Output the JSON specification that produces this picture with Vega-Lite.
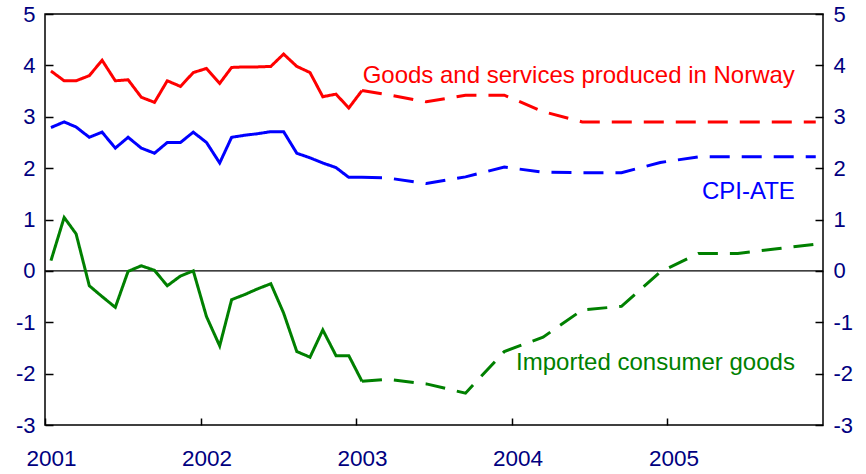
{
  "$schema": "https://vega.github.io/schema/vega-lite/v6.json",
  "width": 778,
  "height": 411,
  "autosize": "none",
  "padding": {"left": 45, "top": 14, "right": 43, "bottom": 49},
  "background": "white",
  "config": {
    "view": {"stroke": "#000000", "strokeWidth": 1.5},
    "axis": {
      "domain": false,
      "grid": false,
      "labelFont": "Liberation Sans",
      "labelFontSize": 22,
      "labelColor": "#000080",
      "tickColor": "#000000",
      "tickWidth": 1.5,
      "title": null
    }
  },
  "datasets": {
    "lines": [
      {"series": "nor", "part": "actual", "date": "2001-01-15", "value": 3.89},
      {"series": "nor", "part": "actual", "date": "2001-02-15", "value": 3.70},
      {"series": "nor", "part": "actual", "date": "2001-03-15", "value": 3.70},
      {"series": "nor", "part": "actual", "date": "2001-04-15", "value": 3.80},
      {"series": "nor", "part": "actual", "date": "2001-05-15", "value": 4.10},
      {"series": "nor", "part": "actual", "date": "2001-06-15", "value": 3.70},
      {"series": "nor", "part": "actual", "date": "2001-07-15", "value": 3.72},
      {"series": "nor", "part": "actual", "date": "2001-08-15", "value": 3.38},
      {"series": "nor", "part": "actual", "date": "2001-09-15", "value": 3.28},
      {"series": "nor", "part": "actual", "date": "2001-10-15", "value": 3.70},
      {"series": "nor", "part": "actual", "date": "2001-11-15", "value": 3.59},
      {"series": "nor", "part": "actual", "date": "2001-12-15", "value": 3.86},
      {"series": "nor", "part": "actual", "date": "2002-01-15", "value": 3.94},
      {"series": "nor", "part": "actual", "date": "2002-02-15", "value": 3.65},
      {"series": "nor", "part": "actual", "date": "2002-03-15", "value": 3.96},
      {"series": "nor", "part": "actual", "date": "2002-04-15", "value": 3.97},
      {"series": "nor", "part": "actual", "date": "2002-05-15", "value": 3.97},
      {"series": "nor", "part": "actual", "date": "2002-06-15", "value": 3.98},
      {"series": "nor", "part": "actual", "date": "2002-07-15", "value": 4.22},
      {"series": "nor", "part": "actual", "date": "2002-08-15", "value": 3.98},
      {"series": "nor", "part": "actual", "date": "2002-09-15", "value": 3.86},
      {"series": "nor", "part": "actual", "date": "2002-10-15", "value": 3.39},
      {"series": "nor", "part": "actual", "date": "2002-11-15", "value": 3.44},
      {"series": "nor", "part": "actual", "date": "2002-12-15", "value": 3.17},
      {"series": "nor", "part": "actual", "date": "2003-01-15", "value": 3.51},
      {"series": "nor", "part": "projection", "date": "2003-01-15", "value": 3.51},
      {"series": "nor", "part": "projection", "date": "2003-03-15", "value": 3.43},
      {"series": "nor", "part": "projection", "date": "2003-06-15", "value": 3.29},
      {"series": "nor", "part": "projection", "date": "2003-09-15", "value": 3.42},
      {"series": "nor", "part": "projection", "date": "2003-12-15", "value": 3.42},
      {"series": "nor", "part": "projection", "date": "2004-03-15", "value": 3.10},
      {"series": "nor", "part": "projection", "date": "2004-06-15", "value": 2.90},
      {"series": "nor", "part": "projection", "date": "2004-09-15", "value": 2.90},
      {"series": "nor", "part": "projection", "date": "2004-12-15", "value": 2.90},
      {"series": "nor", "part": "projection", "date": "2005-03-15", "value": 2.90},
      {"series": "nor", "part": "projection", "date": "2005-06-15", "value": 2.90},
      {"series": "nor", "part": "projection", "date": "2005-09-15", "value": 2.90},
      {"series": "nor", "part": "projection", "date": "2005-12-15", "value": 2.90},

      {"series": "cpi", "part": "actual", "date": "2001-01-15", "value": 2.79},
      {"series": "cpi", "part": "actual", "date": "2001-02-15", "value": 2.90},
      {"series": "cpi", "part": "actual", "date": "2001-03-15", "value": 2.80},
      {"series": "cpi", "part": "actual", "date": "2001-04-15", "value": 2.60},
      {"series": "cpi", "part": "actual", "date": "2001-05-15", "value": 2.70},
      {"series": "cpi", "part": "actual", "date": "2001-06-15", "value": 2.39},
      {"series": "cpi", "part": "actual", "date": "2001-07-15", "value": 2.60},
      {"series": "cpi", "part": "actual", "date": "2001-08-15", "value": 2.39},
      {"series": "cpi", "part": "actual", "date": "2001-09-15", "value": 2.29},
      {"series": "cpi", "part": "actual", "date": "2001-10-15", "value": 2.50},
      {"series": "cpi", "part": "actual", "date": "2001-11-15", "value": 2.50},
      {"series": "cpi", "part": "actual", "date": "2001-12-15", "value": 2.70},
      {"series": "cpi", "part": "actual", "date": "2002-01-15", "value": 2.50},
      {"series": "cpi", "part": "actual", "date": "2002-02-15", "value": 2.10},
      {"series": "cpi", "part": "actual", "date": "2002-03-15", "value": 2.60},
      {"series": "cpi", "part": "actual", "date": "2002-04-15", "value": 2.64},
      {"series": "cpi", "part": "actual", "date": "2002-05-15", "value": 2.67},
      {"series": "cpi", "part": "actual", "date": "2002-06-15", "value": 2.71},
      {"series": "cpi", "part": "actual", "date": "2002-07-15", "value": 2.71},
      {"series": "cpi", "part": "actual", "date": "2002-08-15", "value": 2.29},
      {"series": "cpi", "part": "actual", "date": "2002-09-15", "value": 2.20},
      {"series": "cpi", "part": "actual", "date": "2002-10-15", "value": 2.10},
      {"series": "cpi", "part": "actual", "date": "2002-11-15", "value": 2.01},
      {"series": "cpi", "part": "actual", "date": "2002-12-15", "value": 1.82},
      {"series": "cpi", "part": "actual", "date": "2003-01-15", "value": 1.82},
      {"series": "cpi", "part": "projection", "date": "2003-01-15", "value": 1.82},
      {"series": "cpi", "part": "projection", "date": "2003-03-15", "value": 1.81},
      {"series": "cpi", "part": "projection", "date": "2003-06-15", "value": 1.70},
      {"series": "cpi", "part": "projection", "date": "2003-09-15", "value": 1.83},
      {"series": "cpi", "part": "projection", "date": "2003-12-15", "value": 2.02},
      {"series": "cpi", "part": "projection", "date": "2004-03-15", "value": 1.92},
      {"series": "cpi", "part": "projection", "date": "2004-06-15", "value": 1.91},
      {"series": "cpi", "part": "projection", "date": "2004-09-15", "value": 1.91},
      {"series": "cpi", "part": "projection", "date": "2004-12-15", "value": 2.11},
      {"series": "cpi", "part": "projection", "date": "2005-03-15", "value": 2.22},
      {"series": "cpi", "part": "projection", "date": "2005-06-15", "value": 2.22},
      {"series": "cpi", "part": "projection", "date": "2005-09-15", "value": 2.22},
      {"series": "cpi", "part": "projection", "date": "2005-12-15", "value": 2.22},

      {"series": "imp", "part": "actual", "date": "2001-01-15", "value": 0.20},
      {"series": "imp", "part": "actual", "date": "2001-02-15", "value": 1.04},
      {"series": "imp", "part": "actual", "date": "2001-03-15", "value": 0.72},
      {"series": "imp", "part": "actual", "date": "2001-04-15", "value": -0.29},
      {"series": "imp", "part": "actual", "date": "2001-05-15", "value": -0.50},
      {"series": "imp", "part": "actual", "date": "2001-06-15", "value": -0.71},
      {"series": "imp", "part": "actual", "date": "2001-07-15", "value": -0.01},
      {"series": "imp", "part": "actual", "date": "2001-08-15", "value": 0.10},
      {"series": "imp", "part": "actual", "date": "2001-09-15", "value": 0.01},
      {"series": "imp", "part": "actual", "date": "2001-10-15", "value": -0.29},
      {"series": "imp", "part": "actual", "date": "2001-11-15", "value": -0.10},
      {"series": "imp", "part": "actual", "date": "2001-12-15", "value": 0.00},
      {"series": "imp", "part": "actual", "date": "2002-01-15", "value": -0.89},
      {"series": "imp", "part": "actual", "date": "2002-02-15", "value": -1.46},
      {"series": "imp", "part": "actual", "date": "2002-03-15", "value": -0.56},
      {"series": "imp", "part": "actual", "date": "2002-04-15", "value": -0.46},
      {"series": "imp", "part": "actual", "date": "2002-05-15", "value": -0.35},
      {"series": "imp", "part": "actual", "date": "2002-06-15", "value": -0.25},
      {"series": "imp", "part": "actual", "date": "2002-07-15", "value": -0.82},
      {"series": "imp", "part": "actual", "date": "2002-08-15", "value": -1.57},
      {"series": "imp", "part": "actual", "date": "2002-09-15", "value": -1.68},
      {"series": "imp", "part": "actual", "date": "2002-10-15", "value": -1.15},
      {"series": "imp", "part": "actual", "date": "2002-11-15", "value": -1.65},
      {"series": "imp", "part": "actual", "date": "2002-12-15", "value": -1.65},
      {"series": "imp", "part": "actual", "date": "2003-01-15", "value": -2.15},
      {"series": "imp", "part": "projection", "date": "2003-01-15", "value": -2.15},
      {"series": "imp", "part": "projection", "date": "2003-03-15", "value": -2.11},
      {"series": "imp", "part": "projection", "date": "2003-06-15", "value": -2.20},
      {"series": "imp", "part": "projection", "date": "2003-09-15", "value": -2.38},
      {"series": "imp", "part": "projection", "date": "2003-12-15", "value": -1.57},
      {"series": "imp", "part": "projection", "date": "2004-03-15", "value": -1.29},
      {"series": "imp", "part": "projection", "date": "2004-06-15", "value": -0.76},
      {"series": "imp", "part": "projection", "date": "2004-09-15", "value": -0.69},
      {"series": "imp", "part": "projection", "date": "2004-12-15", "value": -0.02},
      {"series": "imp", "part": "projection", "date": "2005-03-15", "value": 0.34},
      {"series": "imp", "part": "projection", "date": "2005-06-15", "value": 0.34},
      {"series": "imp", "part": "projection", "date": "2005-09-15", "value": 0.43},
      {"series": "imp", "part": "projection", "date": "2005-12-15", "value": 0.52}
    ],
    "labels": [
      {"series": "nor", "date": "2005-10-27", "value": 3.65, "label": "Goods and services produced in Norway"},
      {"series": "cpi", "date": "2005-10-27", "value": 1.40, "label": "CPI-ATE"},
      {"series": "imp", "date": "2005-10-27", "value": -1.93, "label": "Imported consumer goods"}
    ]
  },
  "layer": [
    {
      "data": {"values": [{"v": 0}]},
      "mark": {"type": "rule", "color": "#000000", "strokeWidth": 1.3},
      "encoding": {
        "y": {
          "field": "v",
          "type": "quantitative",
          "scale": {"domain": [-3, 5], "nice": false, "zero": false},
          "axis": {"orient": "right", "values": [-3, -2, -1, 0, 1, 2, 3, 4, 5], "labelExpr": "'' + datum.value", "tickSize": -8, "labelPadding": 18, "labelAlign": "left", "labelFlush": false}
        }
      }
    },
    {
      "data": {"name": "lines"},
      "mark": {"type": "line", "strokeWidth": 3},
      "encoding": {
        "x": {
          "field": "date",
          "type": "temporal",
          "scale": {"type": "utc", "domain": [{"year": 2001, "month": 1, "date": 1, "utc": true}, {"year": 2006, "month": 1, "date": 1, "utc": true}]},
          "axis": {
            "values": [
              {"year": 2001, "month": 1, "date": 1, "utc": true},
              {"year": 2002, "month": 1, "date": 1, "utc": true},
              {"year": 2003, "month": 1, "date": 1, "utc": true},
              {"year": 2004, "month": 1, "date": 1, "utc": true},
              {"year": 2005, "month": 1, "date": 1, "utc": true}
            ],
            "format": "%Y",
            "tickSize": -7,
            "labelPadding": 29,
            "labelOffset": 6,
            "labelFlush": false,
            "labelFontSize": 22.5
          }
        },
        "y": {
          "field": "value",
          "type": "quantitative",
          "scale": {"domain": [-3, 5], "nice": false, "zero": false},
          "axis": {"orient": "left", "values": [-3, -2, -1, 0, 1, 2, 3, 4, 5], "labelExpr": "'' + datum.value", "tickSize": -8, "labelPadding": 18, "labelFlush": false}
        },
        "color": {
          "field": "series",
          "type": "nominal",
          "scale": {"domain": ["nor", "cpi", "imp"], "range": ["#FF0000", "#0000FF", "#008000"]},
          "legend": null
        },
        "strokeDash": {
          "field": "part",
          "type": "nominal",
          "scale": {"domain": ["actual", "projection"], "range": [[1, 0], [20, 12]]},
          "legend": null
        }
      }
    },
    {
      "data": {"name": "labels"},
      "mark": {"type": "text", "align": "right", "baseline": "alphabetic", "font": "Liberation Sans", "fontSize": 24},
      "encoding": {
        "x": {"field": "date", "type": "temporal"},
        "y": {"field": "value", "type": "quantitative", "scale": {"domain": [-3, 5], "nice": false, "zero": false}, "axis": null},
        "text": {"field": "label"},
        "color": {"field": "series", "type": "nominal", "legend": null}
      }
    }
  ],
  "resolve": {"scale": {"y": "independent"}}
}
